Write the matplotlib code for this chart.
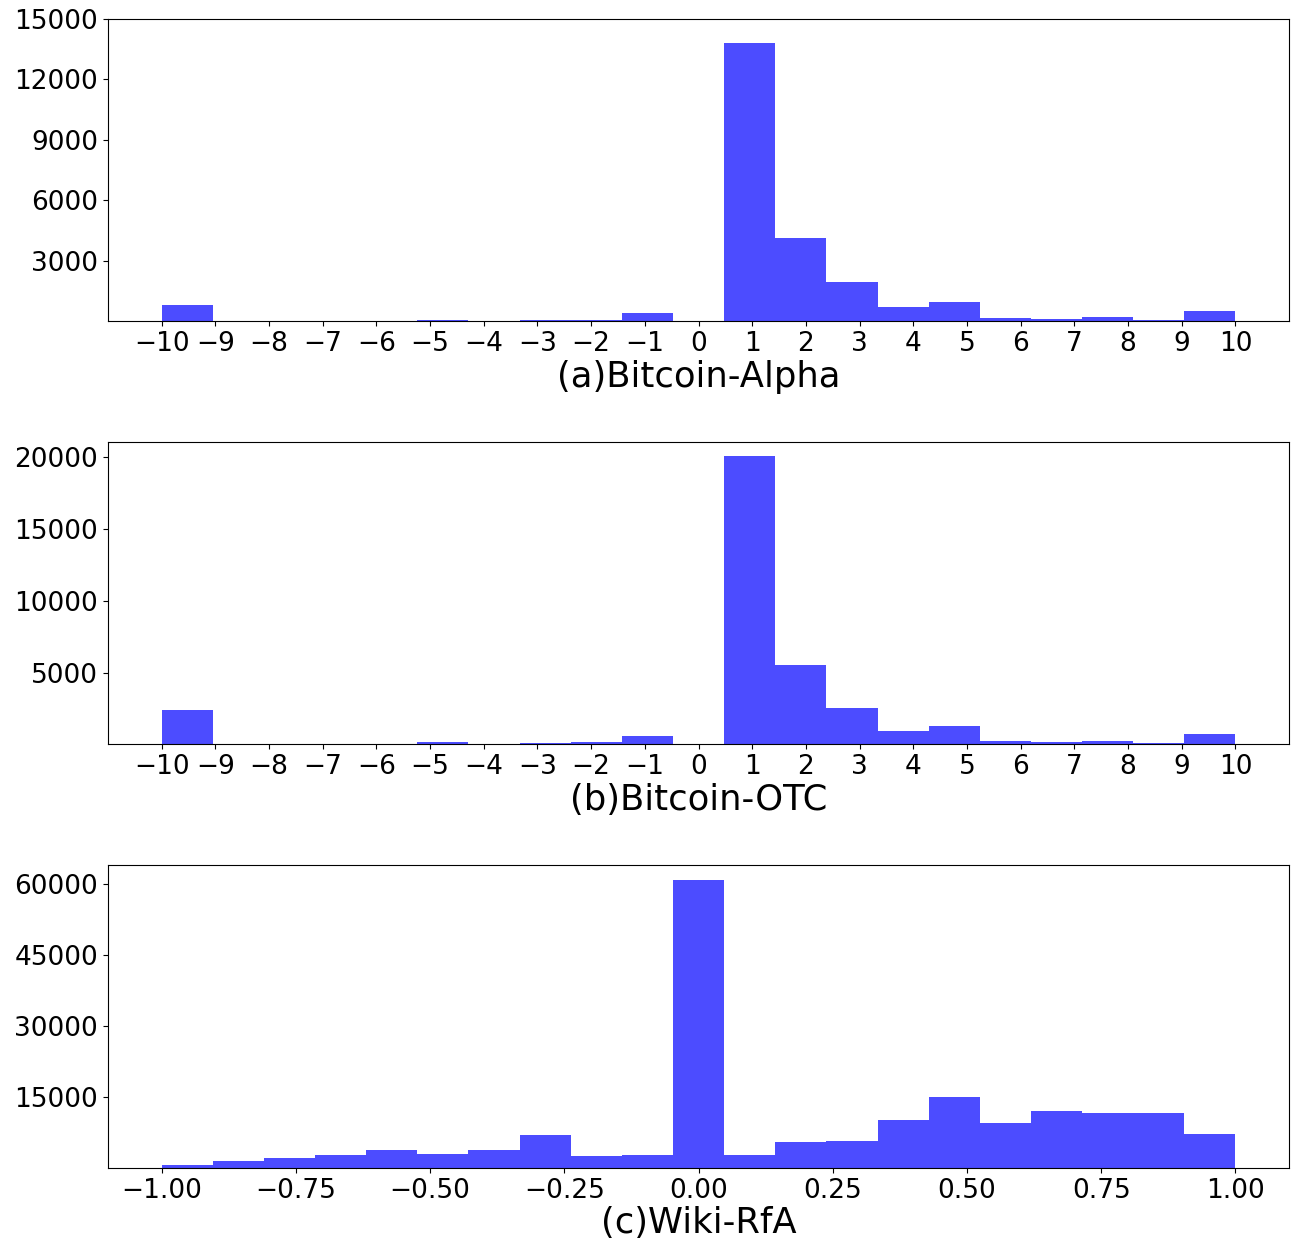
import numpy as np
import matplotlib
matplotlib.use("Agg")
import matplotlib.pyplot as plt

# counts per bin (21 equal bins)
alpha_counts = [820, 0, 0, 0, 0, 70, 0, 35, 35, 415, 0,
                13800, 4130, 1925, 715, 945, 165, 115, 215, 50, 480]
otc_counts = [2400, 0, 0, 0, 0, 140, 0, 70, 140, 580, 0,
              20040, 5530, 2570, 930, 1250, 230, 160, 255, 70, 740]
rfa_counts = [490, 1340, 2045, 2680, 3810, 2890, 3740, 6840, 2540, 2750, 60930,
              2750, 5360, 5570, 10080, 14950, 9450, 12060, 11490, 11560, 7120]

labels = ["(a)Bitcoin-Alpha", "(b)Bitcoin-OTC", "(c)Wiki-RfA"]
ranges = [(-10, 10), (-10, 10), (-1, 1)]
yticks = [[3000, 6000, 9000, 12000, 15000],
          [5000, 10000, 15000, 20000],
          [15000, 30000, 45000, 60000]]

fig, axes = plt.subplots(3, 1, figsize=(12.93, 12.45), dpi=100)
fig.subplots_adjust(left=0.0835, right=0.997, top=0.985, bottom=0.062, hspace=0.40)

for ax, counts, lab, (lo, hi), yt in zip(axes, [alpha_counts, otc_counts, rfa_counts],
                                         labels, ranges, yticks):
    edges = np.linspace(lo, hi, len(counts) + 1)
    centers = (edges[:-1] + edges[1:]) / 2
    ax.hist(centers, bins=edges, weights=counts, color='blue', alpha=0.7)
    ax.set_yticks(yt)
    if hi == 10:
        ax.set_xticks(range(-10, 11))
    ax.tick_params(labelsize=19)
    ax.set_xlabel(lab, fontsize=25.5, labelpad=2)

plt.savefig("out.png")
